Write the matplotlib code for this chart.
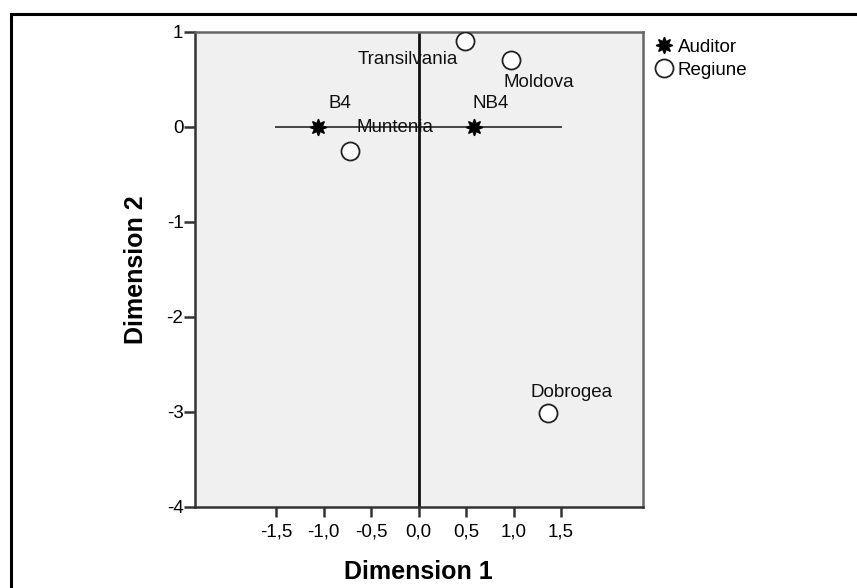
import matplotlib.pyplot as plt
from matplotlib.lines import Line2D
from matplotlib.patches import Rectangle

plt.rcParams['font.family'] = ['Liberation Sans', 'DejaVu Sans']
plt.rcParams['axes.unicode_minus'] = False

# auditor category points
auditor_names = ['B4', 'NB4']
auditor_x = [-1.06, 0.58]
auditor_y = [0.0, 0.0]

# region category points
region_names = ['Transilvania', 'Moldova', 'Muntenia', 'Dobrogea']
region_x = [0.49, 0.97, -0.72, 1.36]
region_y = [0.91, 0.70, -0.25, -3.01]

x_ticks = [-1.5, -1.0, -0.5, 0.0, 0.5, 1.0, 1.5]
x_tick_labels = ['-1,5', '-1,0', '-0,5', '0,0', '0,5', '1,0', '1,5']
y_ticks = [1, 0, -1, -2, -3, -4]

# label offsets (points) for each name
auditor_offsets = [(16, 17), (12, 17)]
region_offsets = [(-41, -14), (20, -16), (32, 17), (17, 15)]

fig = plt.figure(figsize=(8.57, 5.88), dpi=100)
ax = fig.add_axes([0.227, 0.1378, 0.523, 0.8078])
ax.set_facecolor('#f0f0f0')

# outer frame of the chart area
fig.patches.append(Rectangle((11 / 857, -0.1), 1.2, 1.1 - 14 / 588, transform=fig.transFigure,
                             fill=False, edgecolor='black', linewidth=2.2, zorder=0))

ax.set_xlim(-2.36, 2.36)
ax.set_ylim(-4, 1)

# reference lines through the origin
ax.plot([-1.5, 1.5], [0, 0], color='#444444', linewidth=1.4, zorder=1)
ax.axvline(0, color='#111111', linewidth=2, zorder=1)

ax.plot(auditor_x, auditor_y, linestyle='none', marker=(8, 1, 0), markersize=12,
        color='black', zorder=3)
ax.plot(region_x, region_y, linestyle='none', marker='o', markersize=13,
        markerfacecolor='white', markeredgecolor='#222222', markeredgewidth=1.3, zorder=3)

for name, x, y, off in zip(auditor_names, auditor_x, auditor_y, auditor_offsets):
    ax.annotate(name, (x, y), xytext=off, textcoords='offset points',
                ha='center', va='center', fontsize=13.5, color='#111111', zorder=2)
for name, x, y, off in zip(region_names, region_x, region_y, region_offsets):
    ax.annotate(name, (x, y), xytext=off, textcoords='offset points',
                ha='center', va='center', fontsize=13.5, color='#111111', zorder=2)

ax.set_xticks(x_ticks)
ax.set_xticklabels(x_tick_labels)
ax.set_yticks(y_ticks)
ax.tick_params(axis='x', length=7, width=1.8, color='#333333', labelsize=13.5, pad=5)
ax.tick_params(axis='y', length=8, width=1.8, color='#333333', labelsize=13.5, pad=0)

for side in ['left', 'bottom']:
    ax.spines[side].set_color('#333333')
    ax.spines[side].set_linewidth(1.8)
for side in ['top', 'right']:
    ax.spines[side].set_color('#666666')
    ax.spines[side].set_linewidth(1.8)

ax.set_xlabel('Dimension 1', fontsize=18, fontweight='bold', labelpad=14)
ax.set_ylabel('Dimension 2', fontsize=18, fontweight='bold', labelpad=13)

handles = [
    Line2D([], [], linestyle='none', marker=(8, 1, 0), markersize=12, color='black'),
    Line2D([], [], linestyle='none', marker='o', markersize=13, markerfacecolor='white',
           markeredgecolor='#222222', markeredgewidth=1.3),
]
fig.legend(handles, ['Auditor', 'Regiune'], loc='upper left',
           bbox_to_anchor=(646 / 857, 1 - 29 / 588), frameon=False, fontsize=13.5,
           handlelength=0.9, handletextpad=0.3, labelspacing=0.32, borderpad=0)

fig.savefig('out.png', dpi=100)
